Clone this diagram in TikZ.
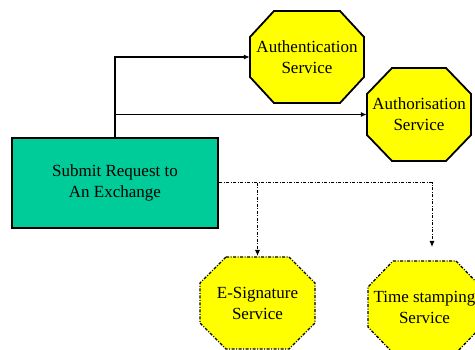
\documentclass[tikz,border=0pt]{standalone}
\usepackage{fontspec}
\setmainfont{Liberation Serif}
\usetikzlibrary{calc,arrows.meta,backgrounds}
\definecolor{boxgreen}{HTML}{00CC99}
\definecolor{octyellow}{HTML}{FFFF00}
\tikzset{
  lbl/.style={align=center,font=\rmfamily\fontsize{17}{21}\selectfont,inner sep=0pt},
  conn/.style={line width=1.8pt,-{Latex[length=6pt,width=5pt]}},
  dotconn/.style={line width=1pt,dash pattern=on 3pt off 1.5pt on 1pt off 1.5pt,-{Latex[length=6pt,width=5pt]}},
  octsolid/.style={fill=octyellow,draw=black,line width=1.8pt,line join=miter},
  octdash/.style={fill=octyellow,draw=black,line width=1.3pt,dash pattern=on 3pt off 1.5pt on 1pt off 1.5pt},
}
% octagon: #1 style, #2 cx, #3 cy, #4 half width, #5 half height, #6 chamfer x, #7 chamfer y
\newcommand{\octpath}[7]{%
  \path[#1] ({#2-#4+#6},{#3-#5}) -- ({#2+#4-#6},{#3-#5}) -- ({#2+#4},{#3-#5+#7}) -- ({#2+#4},{#3+#5-#7})
    -- ({#2+#4-#6},{#3+#5}) -- ({#2-#4+#6},{#3+#5}) -- ({#2-#4},{#3+#5-#7}) -- ({#2-#4},{#3-#5+#7}) -- cycle;}
\begin{document}
\begin{tikzpicture}[x=1pt,y=-1pt]
\useasboundingbox (0,0) rectangle (475,350);
% octagons
\octpath{octsolid}{307}{57}{57}{46}{24}{26}
\octpath{octsolid}{419}{114.5}{52}{46.5}{25}{26}
\octpath{octdash}{257.5}{303}{57.5}{46}{26}{26}
\octpath{octdash}{424.5}{307}{56.5}{46}{25}{26}
% invisible node frames for the octagons
\node[lbl,minimum width=114pt,minimum height=92pt] (auth) at (307,57) {Authentication\\Service};
\node[lbl,minimum width=104pt,minimum height=93pt] (authz) at (419,114.5) {Authorisation\\Service};
\node[lbl,minimum width=115pt,minimum height=92pt] (esig) at (257.5,303) {E-Signature\\Service};
\node[lbl,minimum width=113pt,minimum height=92pt] (time) at (424.5,307) {Time stamping\\Service};
% main box
\node[lbl,draw=black,fill=boxgreen,line width=2.2pt,minimum width=206pt,minimum height=90pt] (submit) at (115,183) {Submit Request to\\An Exchange};
% solid connectors
\draw[conn] (submit.north) |- (auth.west);
\draw[conn] (submit.north) |- (authz.west);
% dotted connectors
\coordinate (tsend) at (432,247);
\coordinate (esend) at (257.5,256);
\draw[dotconn] (submit.east) -| (tsend);
\draw[dotconn] (submit.east -| esend) -- (esend);
\end{tikzpicture}
\end{document}
